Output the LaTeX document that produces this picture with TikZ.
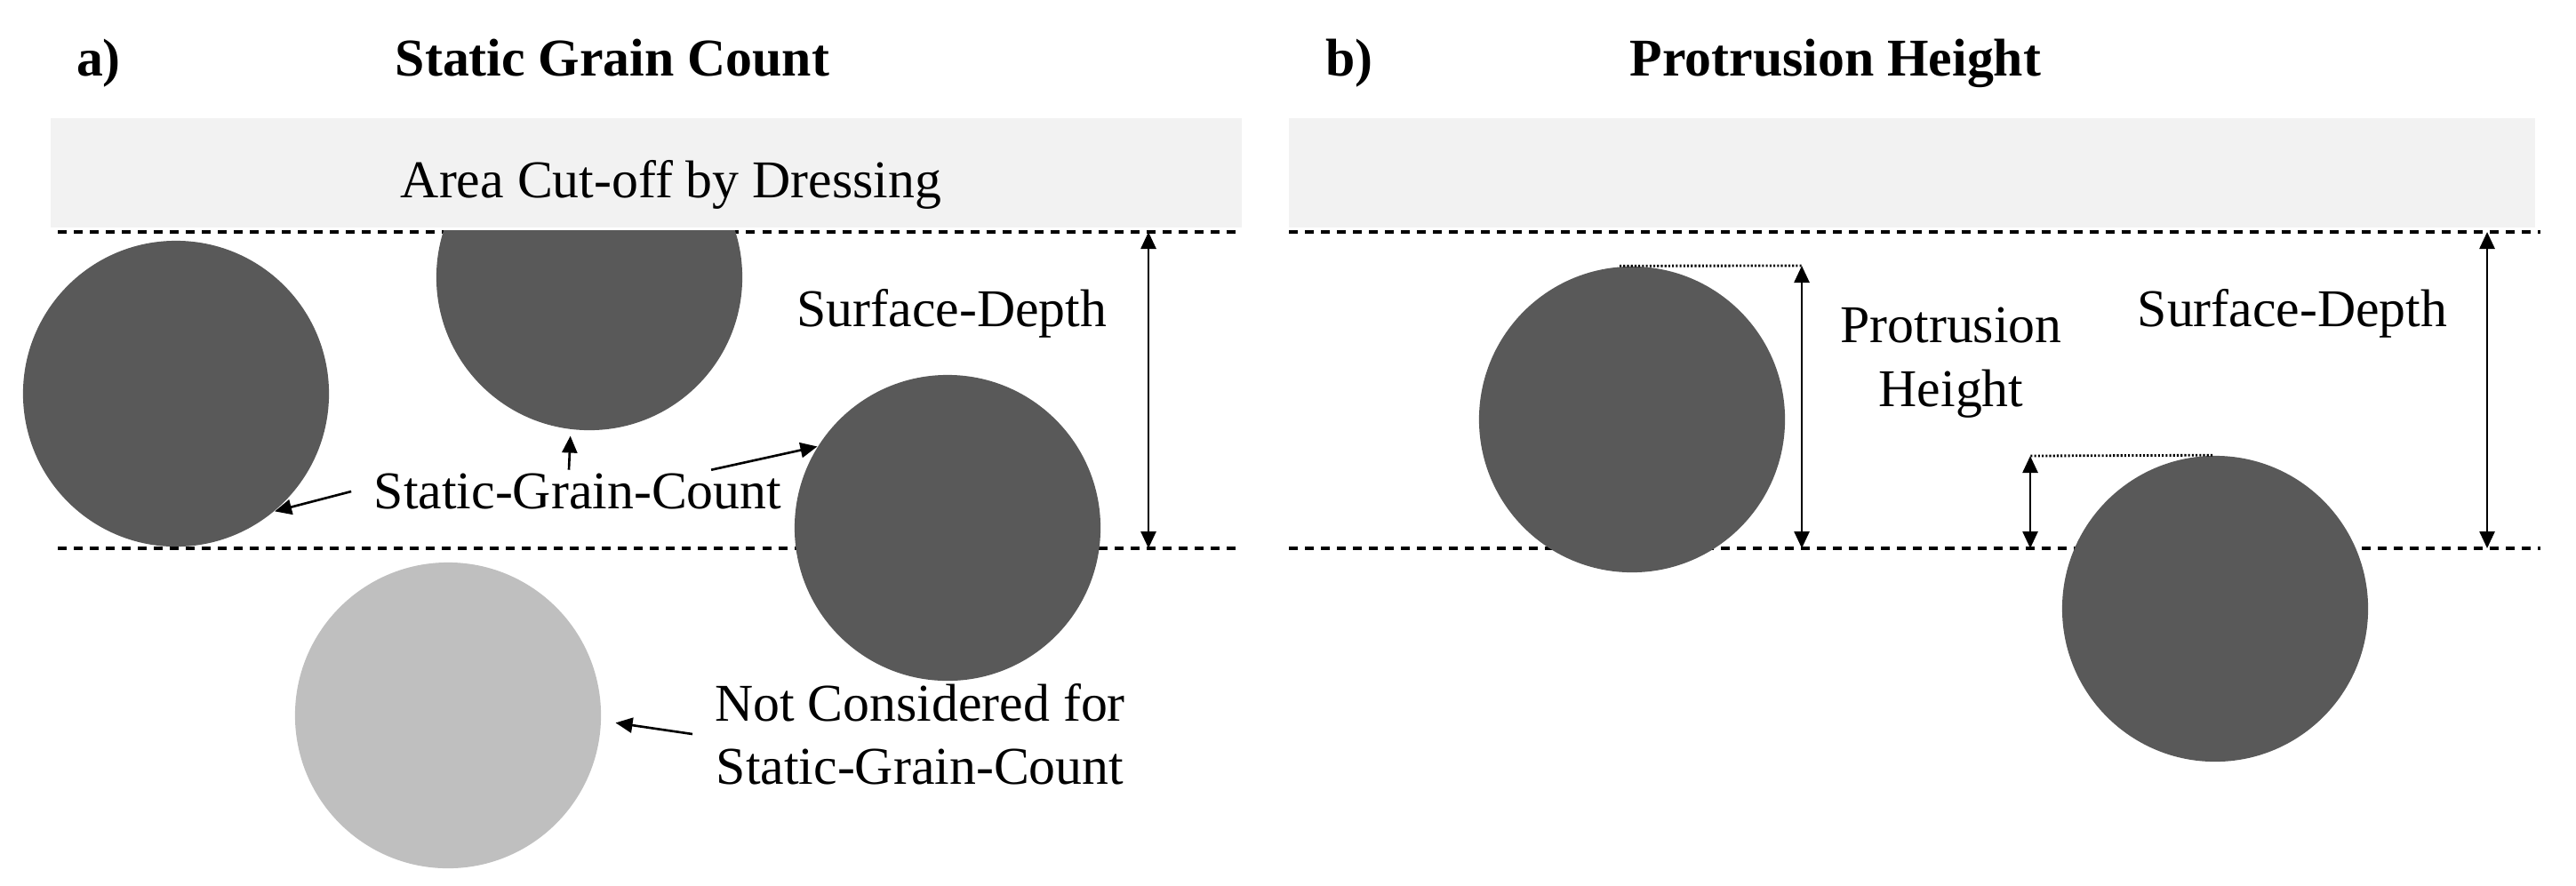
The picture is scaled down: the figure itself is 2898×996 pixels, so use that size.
\documentclass[tikz,border=0pt]{standalone}
\usepackage{fontspec}
\setmainfont{Liberation Serif}
\usepackage{tikz}
\usetikzlibrary{arrows.meta}

\definecolor{grainc}{HTML}{595959}
\definecolor{oldgrainc}{HTML}{BFBFBF}
\definecolor{bandc}{HTML}{F2F2F2}

\begin{document}
\begin{tikzpicture}[x=0.01cm,y=-0.01cm]
      \tikzstyle{grain} = [circle,fill=grainc,minimum size=3.44cm,inner sep=0pt]
      \tikzstyle{txt} = [font=\fontsize{17}{20.3}\selectfont,inner sep=0pt]
      \tikzstyle{ttl} = [font=\fontsize{17}{20.3}\selectfont\bfseries,inner sep=0pt,anchor=base]
      \tikzstyle{limit} = [line width=0.9pt,dash pattern=on 0.1cm off 0.08cm]
      \tikzstyle{arr} = [line width=0.75pt,-{Triangle[length=0.19cm,width=0.17cm]}]
      \tikzstyle{dim} = [line width=0.75pt,{Triangle[length=0.19cm,width=0.17cm]}-{Triangle[length=0.19cm,width=0.17cm]}]
      \tikzstyle{dotln} = [line width=0.8pt,dash pattern=on 0.6pt off 0.6pt]

      \useasboundingbox (0,0) rectangle (2898,996);

      % headings
      \node[ttl] (lbla) at (111,85) {a)};
      \node[ttl] (ttla) at (689,85) {Static Grain Count};
      \node[ttl] (lblb) at (1518,85) {b)};
      \node[ttl] (ttlb) at (2065,85) {Protrusion Height};

      % dressing band and limits
      \fill[bandc] (57,133) rectangle (1397,256);
      \fill[bandc] (1450,133) rectangle (2852,256);
      \node[txt,anchor=base] (cut) at (755,222) {Area Cut-off by Dressing};
      \foreach \y in {261,617} {
        \draw[limit] (65,\y) -- (1397,\y);
        \draw[limit] (1450,\y) -- (2858,\y);
      }

      % grains
      \foreach \n/\x/\y in {g1/198/443,g3/1066/594,g5/1836/472,g6/2492/685} {
        \node[grain] (\n) at (\x,\y) {};
      }
      \begin{scope}
        \clip (0,259) rectangle (1400,700);
        \node[grain] (g2) at (663,312) {};
      \end{scope}
      \node[grain,fill=oldgrainc] (g4) at (504,805) {};

      % a) labels
      \node[txt,inner xsep=0.25cm,inner ysep=1pt] (sgc) at (650,553) {Static-Grain-Count};
      \node[txt,align=center,inner xsep=0.245cm] (nc) at (1035,826) {Not Considered for\\Static-Grain-Count};
      \node[txt,anchor=base] (sda) at (1071,367) {Surface-Depth};
      \coordinate (sa1) at (1292,261);
      \coordinate (sa2) at (1292,617);

      \draw[arr] (sgc.west) -- (g1.-50);
      \draw[arr,shorten >=0.07cm] ([xshift=-0.1cm]sgc.north) -- (g2.-97);
      \draw[arr] ([xshift=1.5cm]sgc.north) -- (g3.148);
      \draw[arr,shorten >=0.16cm] (nc.west) -- (g4.-2);
      \draw[dim] (sa1) -- (sa2);

      % b) labels
      \node[txt,align=center] (ph) at (2195,408) {Protrusion\\Height};
      \node[txt,anchor=base] (sdb) at (2579,367) {Surface-Depth};
      \coordinate (ph1) at (2027,299);
      \coordinate (ph2) at (2027,617);
      \coordinate (pl1) at (2284,513);
      \coordinate (pl2) at (2284,617);
      \coordinate (sb1) at (2798,261);
      \coordinate (sb2) at (2798,617);

      \draw[dotln] ([xshift=-0.14cm]g5.north) -- (ph1);
      \draw[dotln] ([xshift=-0.03cm]g6.north) -- (pl1);
      \draw[dim] (ph1) -- (ph2);
      \draw[dim] (pl1) -- (pl2);
      \draw[dim] (sb1) -- (sb2);

    \end{tikzpicture}
\end{document}
